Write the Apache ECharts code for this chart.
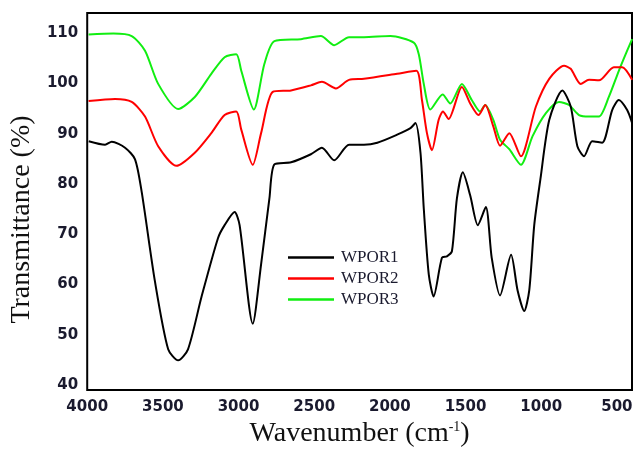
<!DOCTYPE html>
<html>
<head>
<meta charset="utf-8">
<script src="https://cdn.jsdelivr.net/npm/echarts@6/dist/echarts.min.js"></script>
<style>
html, body { margin: 0; padding: 0; background: #fff; }
#draw { width: 636px; height: 453px; }
</style>
</head>
<body>
<div id="draw"></div>
<script>
// FTIR spectra
var seriesNames = ['WPOR1', 'WPOR2', 'WPOR3'];
var seriesColors = ['#000000', '#ff0000', '#11ee11'];

var wn1 = [3990, 3882, 3838, 3750, 3684, 3640, 3553, 3465, 3399, 3334, 3245, 3136, 3092, 3026, 2993, 2906, 2851, 2796, 2763, 2653, 2522, 2449, 2368, 2270, 2171, 2083, 1952, 1864, 1831, 1798, 1776, 1743, 1711, 1656, 1623, 1590, 1557, 1518, 1469, 1419, 1366, 1327, 1272, 1199, 1156, 1112, 1079, 1046, 1005, 947, 860, 805, 761, 717, 663, 597, 531, 487, 432, 399];
var tr1 = [88.5, 87.8, 88.4, 87.2, 84.9, 78.4, 60.7, 47.1, 44.9, 47.1, 57.5, 69.2, 71.8, 74.4, 71.8, 52.2, 64, 77.1, 83.9, 84.3, 85.9, 87.2, 84.7, 87.8, 87.8, 88.2, 89.8, 91.1, 92.1, 86.3, 75.1, 62, 57.6, 65.3, 65.6, 66.6, 77.1, 82.3, 77.7, 71.8, 75.4, 65.3, 57.8, 65.9, 58.8, 54.7, 58.8, 71.8, 81, 92.7, 98.6, 95.4, 87.5, 85.5, 88.5, 88.2, 94.7, 96.7, 94.7, 92.1];

var wn2 = [3991, 3816, 3706, 3618, 3531, 3410, 3289, 3180, 3092, 3015, 2982, 2906, 2851, 2774, 2653, 2522, 2449, 2357, 2270, 2171, 1952, 1825, 1788, 1755, 1722, 1678, 1649, 1612, 1524, 1469, 1414, 1370, 1316, 1272, 1211, 1134, 1035, 947, 849, 805, 739, 684, 618, 520, 465, 399];
var tr2 = [96.5, 96.9, 96.3, 93.4, 87.5, 83.6, 86.2, 90.1, 93.7, 94.4, 90.8, 83.8, 90.1, 98.3, 98.6, 99.6, 100.3, 99, 100.7, 100.9, 101.9, 102.5, 96.7, 90.1, 86.7, 92.7, 94.4, 92.9, 99.3, 96, 93.7, 95.7, 91.4, 87.6, 90.1, 85.5, 95.4, 100.9, 103.5, 102.9, 99.9, 100.7, 100.6, 103.2, 103.2, 100.7];

var wn3 = [3991, 3827, 3706, 3618, 3531, 3399, 3289, 3180, 3092, 3015, 2982, 2899, 2829, 2763, 2588, 2456, 2368, 2270, 2171, 1996, 1842, 1809, 1776, 1733, 1651, 1601, 1524, 1459, 1404, 1370, 1316, 1272, 1211, 1134, 1057, 969, 882, 816, 750, 684, 618, 553, 487, 432, 399];
var tr3 = [109.7, 109.9, 109.4, 106.5, 99.9, 94.9, 97.3, 101.9, 105.2, 105.8, 102.5, 94.8, 103.9, 108.4, 108.8, 109.4, 107.6, 109.2, 109.2, 109.4, 108.1, 105.8, 99.9, 94.8, 97.8, 96, 99.9, 96.7, 94.4, 95.7, 92.7, 88.8, 86.9, 83.8, 89.5, 94.1, 96.3, 95.7, 93.7, 93.4, 93.4, 97.3, 102.5, 106.5, 108.8];

var xTicks = [4000, 3500, 3000, 2500, 2000, 1500, 1000, 500];
var yTicks = [40, 50, 60, 70, 80, 90, 100, 110];

function zip(a, b) {
	return a.map(function(x, i) { return [x, b[i]]; });
}

var myChart = echarts.init(document.getElementById('draw'));

var tickFont = {
	fontFamily : 'DejaVu Sans',
	fontSize : 15,
	fontWeight : 'bold',
	color : '#1a1a2e'
};

var data = [zip(wn1, tr1), zip(wn2, tr2), zip(wn3, tr3)];

option = {
	animation : false,
	grid : {
		left : 86,
		right : 4,
		top : 13,
		bottom : 59,
		show : true,
		borderColor : '#000',
		borderWidth : 2
	},
	legend : {
		orient : 'vertical',
		left : 283,
		top : 244,
		itemWidth : 46,
		itemHeight : 2.5,
		itemGap : 4,
		icon : 'rect',
		data : seriesNames,
		textStyle : {
			fontFamily : 'Liberation Serif',
			fontSize : 17,
			color : '#1a1a2e',
			padding : [0, 0, 0, 2]
		}
	},
	xAxis : {
		type : 'value',
		inverse : true,
		min : 400,
		max : 4000,
		splitNumber : 7,
		axisLine : { show : false },
		axisTick : { show : false },
		splitLine : { show : false },
		axisLabel : Object.assign({
			margin : 10,
			formatter : function(v) {
				return xTicks.indexOf(v) >= 0 ? String(v) : '';
			}
		}, tickFont),
		name : 'Wavenumber (cm{sup|-1})',
		nameLocation : 'middle',
		nameGap : 30,
		nameTextStyle : {
			fontFamily : 'Liberation Serif',
			fontSize : 28,
			color : '#111',
			rich : {
				sup : {
					fontFamily : 'Liberation Serif',
					fontSize : 14,
					verticalAlign : 'top',
					padding : [0, 0, 14, 0]
				}
			}
		}
	},
	yAxis : {
		type : 'value',
		min : 39,
		max : 114,
		splitNumber : 7,
		axisLine : { show : false },
		axisTick : { show : false },
		splitLine : { show : false },
		axisLabel : Object.assign({
			margin : 9,
			formatter : function(v) {
				return yTicks.indexOf(v) >= 0 ? String(v) : '';
			}
		}, tickFont),
		name : 'Transmittance (%)',
		nameLocation : 'middle',
		nameRotate : 90,
		nameGap : 48,
		nameTextStyle : {
			fontFamily : 'Liberation Serif',
			fontSize : 28,
			color : '#111',
			padding : [0, 36, 0, 0]
		}
	},
	series : seriesNames.map(function(n, i) {
		return {
			name : n,
			type : 'line',
			data : data[i],
			showSymbol : false,
			symbol : 'none',
			smooth : 0.25,
			lineStyle : { color : seriesColors[i], width : 2 },
			itemStyle : { color : seriesColors[i] },
			z : 3 - i
		};
	})
};
myChart.setOption(option);
</script>
</body>
</html>
